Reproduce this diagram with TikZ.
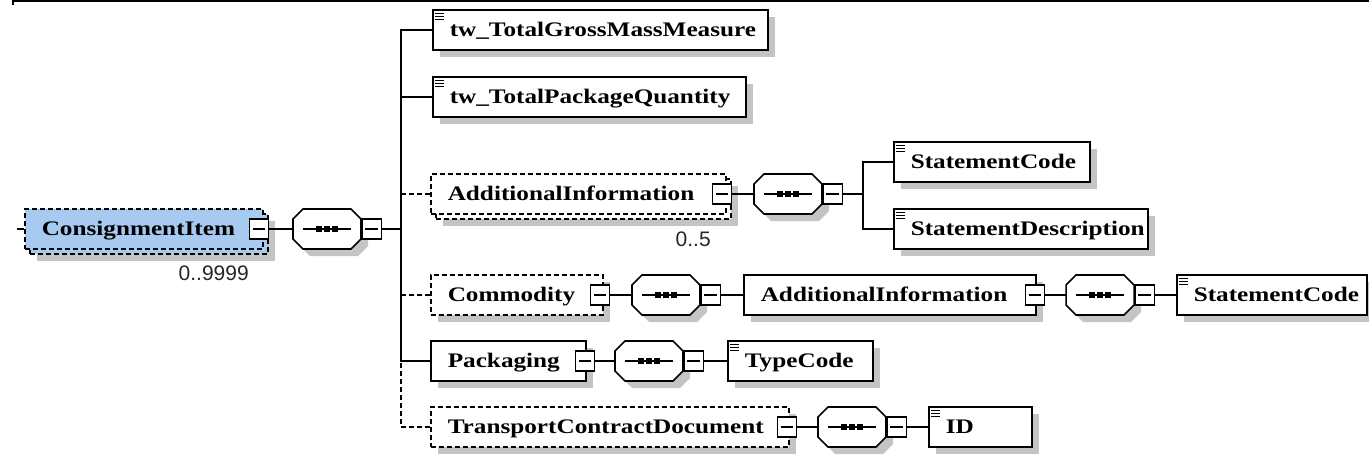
\documentclass[tikz,border=0pt]{standalone}
\usepackage{fontspec}
\usetikzlibrary{shadows}
\newfontfamily\lblfont{Liberation Serif}[FakeStretch=1.22]
\newfontfamily\occfont{Liberation Sans}
\definecolor{shadowc}{RGB}{196,196,196}
\definecolor{ciblue}{RGB}{166,202,240}
% sequence compositor: name, x, y
\newcommand\seqat[3]{%
  \begin{scope}[shift={(#2,#3)}]
    \fill[shadowc] (-17,-13) -- (31,-13) -- (41,-3) -- (41,17) -- (31,27) -- (-17,27) -- (-27,17) -- (-27,-3) -- cycle;
    \draw[lw, fill=white] (-24,-20) -- (24,-20) -- (34,-10) -- (34,10) -- (24,20) -- (-24,20) -- (-34,10) -- (-34,-10) -- cycle;
    \draw[lw] (-24,0) -- (24,0);
    \foreach \d in {-8,0,8}{\fill (\d-2.6,-2.6) rectangle (\d+2.6,2.6);}
  \end{scope}
  \node[minimum width=51pt, minimum height=30pt] (#1) at (#2,#3) {};
}
\begin{document}
\begin{tikzpicture}[x=0.75pt,y=-0.75pt,
  every node/.style={inner sep=0pt},
  lw/.style={line width=1.15pt},
  dsh/.style={dash pattern=on 3.75pt off 2.25pt},
  shd/.style={drop shadow={shadow xshift=5.5pt,shadow yshift=-5.5pt,fill=shadowc,opacity=1}},
  elembox/.style={draw, lw, fill=white, rectangle, minimum height=30pt,
    font=\lblfont\bfseries\fontsize{15.5pt}{15.5pt}\selectfont,
    text height=10.2pt, text depth=0pt, inner xsep=12.75pt, align=left},
  ew/.style={text width={(#1-34)*0.75pt}},
  simple/.style={path picture={\foreach \k in {2.4,4.6,6.8}{\draw[line width=0.8pt] ([xshift=1.6pt,yshift=-\k pt]path picture bounding box.north west) -- ++(7pt,0pt);}}},
  minus/.style={draw, lw, fill=white, rectangle, minimum width=14.5pt, minimum height=15pt,
    path picture={\draw[lw] ([xshift=2.5pt]path picture bounding box.west) -- ([xshift=-2.5pt]path picture bounding box.east);}},
  occ/.style={font=\occfont\fontsize{15.75pt}{16pt}\selectfont, text=black!85, text height=11.3pt, text depth=0pt}
]
\useasboundingbox (0,0) rectangle (1369,457);

% top rule
\coordinate (tl1) at (13,1);
\coordinate (tl2) at (1369,1);
\coordinate (tl3) at (13,5);
\draw[line width=1.5pt] (tl3) -- (tl1) -- (tl2);

% root element
\node[elembox, dsh, fill=ciblue, shd, ew=238, anchor=west] (ciback) at (29,234) {};
\node[elembox, dsh, fill=ciblue, ew=238, anchor=west] (ci) at (24,229) {\mbox{ConsignmentItem}};
\node[minus] (ci-m) at (259,229) {};
\node[occ, anchor=east] (ci-occ) at (249,273) {0..9999};
\coordinate (stub) at (17,229);
\draw[lw] (stub) -- (ci.west);

\seqat{seq1}{327}{229}
\node[minus, anchor=west] (seq1-m) at (seq1.east) {};
\coordinate (tk) at (401,229);
\draw[lw] (ci-m.east) -- (seq1.west);
\draw[lw] (seq1-m.east) -- (tk);

% children of root sequence
\node[elembox, shd, simple, ew=335, anchor=west] (gross) at (432,30) {\mbox{tw\_TotalGrossMassMeasure}};
\node[elembox, shd, simple, ew=313, anchor=west] (pkq) at (432,97) {\mbox{tw\_TotalPackageQuantity}};

\node[elembox, dsh, shd, ew=295, anchor=west] (aiback) at (435,199) {};
\node[elembox, dsh, ew=295, anchor=west] (ai) at (430,194) {\mbox{AdditionalInformation}};
\node[minus] (ai-m) at (722,194) {};
\node[occ, anchor=east] (ai-occ) at (711,239) {0..5};

\node[elembox, dsh, shd, ew=172, anchor=west] (com) at (430,295) {\mbox{Commodity}};
\node[minus] (com-m) at (600,295) {};

\node[elembox, shd, ew=155, anchor=west] (pk) at (430,361) {\mbox{Packaging}};
\node[minus] (pk-m) at (585,361) {};

\node[elembox, dsh, shd, ew=358, anchor=west] (tcd) at (430,427) {\mbox{TransportContractDocument}};
\node[minus] (tcd-m) at (787,427) {};

\draw[lw, dsh] (ai.west) -| (tk);
\draw[lw, dsh] (com.west) -| (tk);
\draw[lw, dsh] (tcd.west) -| (tk);
\draw[lw] (gross.west) -| (tk);
\draw[lw] (pkq.west) -| (tk);
\draw[lw] (pk.west) -| (tk);

% AdditionalInformation (0..5)
\seqat{seq2}{788}{194}
\node[minus, anchor=west] (seq2-m) at (seq2.east) {};
\coordinate (fk) at (863,194);
\node[elembox, shd, simple, ew=196, anchor=west] (sc1) at (893,162) {\mbox{StatementCode}};
\node[elembox, shd, simple, ew=254, anchor=west] (sd) at (893,229) {\mbox{StatementDescription}};
\draw[lw] (ai-m.east) -- (seq2.west);
\draw[lw] (seq2-m.east) -- (fk);
\draw[lw] (sc1.west) -| (fk);
\draw[lw] (sd.west) -| (fk);

% Commodity
\seqat{seq3}{666}{295}
\node[minus, anchor=west] (seq3-m) at (seq3.east) {};
\node[elembox, shd, ew=292, anchor=west] (ai2) at (743,295) {\mbox{AdditionalInformation}};
\node[minus] (ai2-m) at (1035,295) {};
\seqat{seq4}{1100}{295}
\node[minus, anchor=west] (seq4-m) at (seq4.east) {};
\node[elembox, shd, simple, ew=190, anchor=west] (sc2) at (1176,295) {\mbox{StatementCode}};
\draw[lw] (com-m.east) -- (seq3.west);
\draw[lw] (seq3-m.east) -- (ai2.west);
\draw[lw] (ai2-m.east) -- (seq4.west);
\draw[lw] (seq4-m.east) -- (sc2.west);

% Packaging
\seqat{seq5}{649}{361}
\node[minus, anchor=west] (seq5-m) at (seq5.east) {};
\node[elembox, shd, simple, ew=145, anchor=west] (tc) at (727,361) {\mbox{TypeCode}};
\draw[lw] (pk-m.east) -- (seq5.west);
\draw[lw] (seq5-m.east) -- (tc.west);

% TransportContractDocument
\seqat{seq6}{852}{427}
\node[minus, anchor=west] (seq6-m) at (seq6.east) {};
\node[elembox, shd, simple, ew=103, anchor=west] (id) at (928,427) {\mbox{ID}};
\draw[lw] (tcd-m.east) -- (seq6.west);
\draw[lw] (seq6-m.east) -- (id.west);
\end{tikzpicture}
\end{document}
